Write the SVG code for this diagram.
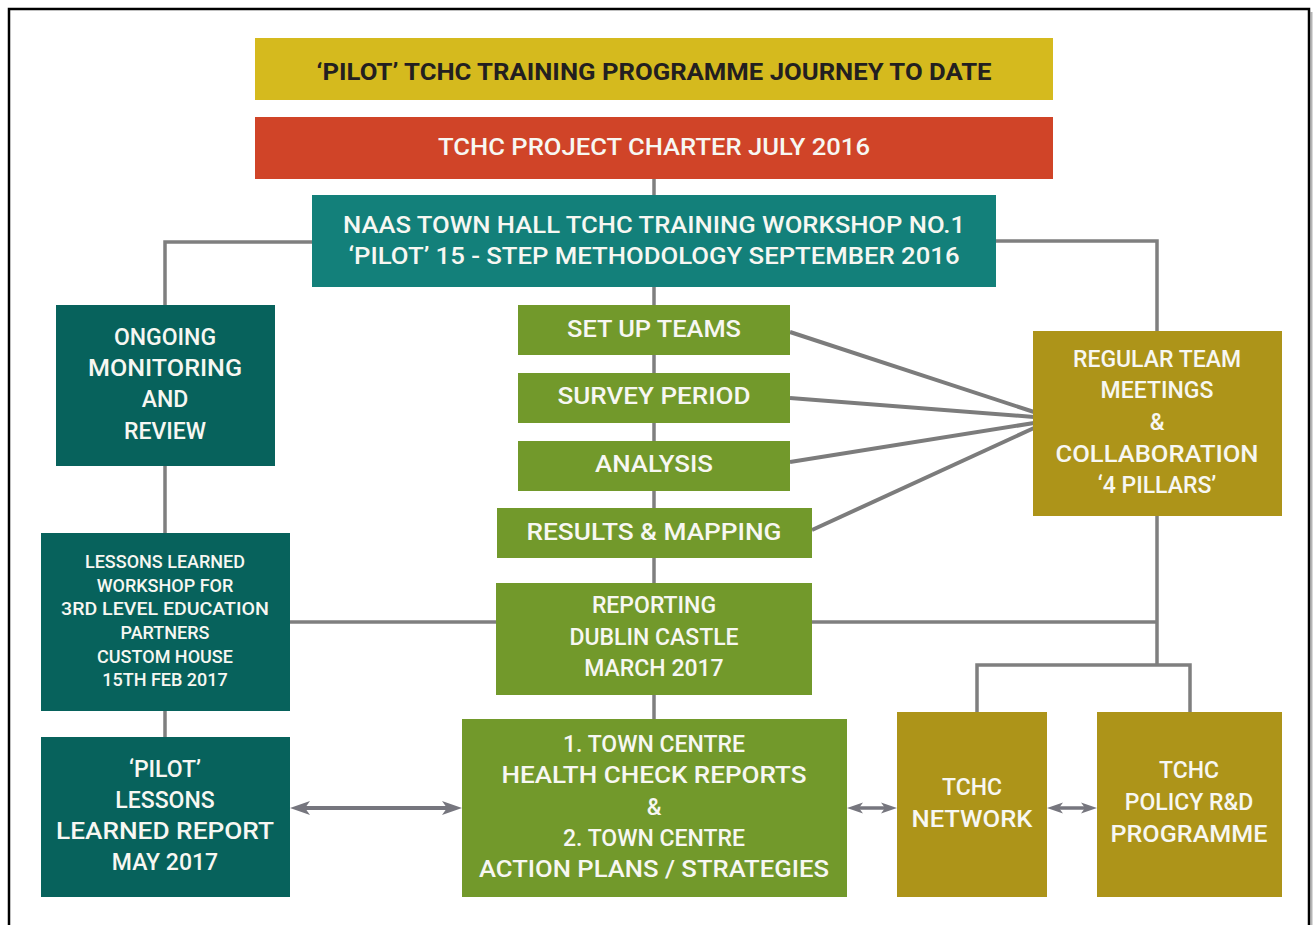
<svg xmlns="http://www.w3.org/2000/svg" width="1316" height="925" viewBox="0 0 1316 925">
  <style>
    .lbl { font-family: Roboto, "Liberation Sans", Arial, sans-serif; font-weight: 500; fill: #f7f7f2; text-anchor: middle; }
    .dark { fill: #231f20; font-weight: 700; }
    .s24 { font-size: 24px; }
    .s23 { font-size: 23px; }
    .s18 { font-size: 18px; }
    .yellow { fill: #d5ba1e; }
    .red { fill: #d04428; }
    .teal { fill: #13807a; }
    .deep { fill: #07625c; }
    .green { fill: #72992b; }
    .gold { fill: #ad9419; }
    .wire { fill: none; stroke: #7f7f7f; stroke-width: 3.5; }
    .fan { fill: none; stroke: #7c7c7c; stroke-width: 4; }
    .dbl { fill: none; stroke: #76767e; stroke-width: 4; }
    .dbls { fill: none; stroke: #76767e; stroke-width: 3.5; }
  </style>
  <defs>
    <marker id="headL" markerUnits="userSpaceOnUse" viewBox="-12 -8 24 16" markerWidth="24" markerHeight="16" refX="0" refY="0" orient="auto-start-reverse">
      <path d="M10,0 L-10,-7 L-5,0 L-10,7 Z" fill="#76767e"/>
    </marker>
    <marker id="headS" markerUnits="userSpaceOnUse" viewBox="-10 -7 20 14" markerWidth="20" markerHeight="14" refX="0" refY="0" orient="auto-start-reverse">
      <path d="M8,0 L-8,-5.5 L-4,0 L-8,5.5 Z" fill="#76767e"/>
    </marker>
  </defs>

  <rect width="1316" height="925" fill="#ffffff"/>
  <!-- outer frame -->
  <line x1="1311.5" y1="12" x2="1311.5" y2="925" stroke="#b5b5b5" stroke-width="2"/>
  <rect x="9" y="9" width="1300" height="930" fill="none" stroke="#000000" stroke-width="2.5"/>

  <!-- connectors -->
  <g id="connectors">
    <line class="wire" x1="654" y1="179" x2="654" y2="719"/>
    <polyline class="wire" points="313,242 165,242 165,737"/>
    <line class="wire" x1="290" y1="622" x2="496" y2="622"/>
    <polyline class="wire" points="996,241 1157,241 1157,665"/>
    <line class="wire" x1="812" y1="622" x2="1157" y2="622"/>
    <polyline class="wire" points="977,712 977,665 1190,665 1190,712"/>
    <line class="fan" x1="790" y1="332" x2="1034" y2="412"/>
    <line class="fan" x1="790" y1="398" x2="1034" y2="417"/>
    <line class="fan" x1="790" y1="462" x2="1034" y2="423"/>
    <line class="fan" x1="812" y1="530" x2="1034" y2="428"/>
    <line class="dbl" x1="300" y1="808" x2="452" y2="808" marker-start="url(#headL)" marker-end="url(#headL)"/>
    <line class="dbls" x1="855" y1="808" x2="889" y2="808" marker-start="url(#headS)" marker-end="url(#headS)"/>
    <line class="dbls" x1="1055" y1="808" x2="1089" y2="808" marker-start="url(#headS)" marker-end="url(#headS)"/>
  </g>

  <g id="title">
    <rect class="yellow" x="255" y="38" width="798" height="62"/>
    <text class="lbl dark s24" x="654" y="80" textLength="675" lengthAdjust="spacingAndGlyphs">‘PILOT’ TCHC TRAINING PROGRAMME JOURNEY TO DATE</text>
  </g>

  <g id="charter">
    <rect class="red" x="255" y="117" width="798" height="62"/>
    <text class="lbl s24" x="654" y="155" textLength="432" lengthAdjust="spacingAndGlyphs">TCHC PROJECT CHARTER JULY 2016</text>
  </g>

  <g id="workshop">
    <rect class="teal" x="312" y="195" width="684" height="92"/>
    <text class="lbl s24" x="654" y="233" textLength="622" lengthAdjust="spacingAndGlyphs">NAAS TOWN HALL TCHC TRAINING WORKSHOP NO.1</text>
    <text class="lbl s24" x="654" y="264" textLength="611" lengthAdjust="spacingAndGlyphs">‘PILOT’ 15 - STEP METHODOLOGY SEPTEMBER 2016</text>
  </g>

  <g id="monitoring">
    <rect class="deep" x="56" y="305" width="219" height="161"/>
    <text class="lbl s23" x="165" y="345">ONGOING</text>
    <text class="lbl s23" x="165" y="376" textLength="154" lengthAdjust="spacingAndGlyphs">MONITORING</text>
    <text class="lbl s23" x="165" y="407">AND</text>
    <text class="lbl s23" x="165" y="439">REVIEW</text>
  </g>

  <g id="lessons-workshop">
    <rect class="deep" x="41" y="533" width="249" height="178"/>
    <text class="lbl s18" x="165" y="568">LESSONS LEARNED</text>
    <text class="lbl s18" x="165" y="592">WORKSHOP FOR</text>
    <text class="lbl s18" x="165" y="615" textLength="208" lengthAdjust="spacingAndGlyphs">3RD LEVEL EDUCATION</text>
    <text class="lbl s18" x="165" y="639">PARTNERS</text>
    <text class="lbl s18" x="165" y="663">CUSTOM HOUSE</text>
    <text class="lbl s18" x="165" y="686">15TH FEB 2017</text>
  </g>

  <g id="lessons-report">
    <rect class="deep" x="41" y="737" width="249" height="160"/>
    <text class="lbl s23" x="165" y="777">‘PILOT’</text>
    <text class="lbl s23" x="165" y="808">LESSONS</text>
    <text class="lbl s23" x="165" y="839" textLength="218" lengthAdjust="spacingAndGlyphs">LEARNED REPORT</text>
    <text class="lbl s23" x="165" y="870">MAY 2017</text>
  </g>

  <g id="setup-teams">
    <rect class="green" x="518" y="305" width="272" height="50"/>
    <text class="lbl s23" x="654" y="337" textLength="174" lengthAdjust="spacingAndGlyphs">SET UP TEAMS</text>
  </g>

  <g id="survey-period">
    <rect class="green" x="518" y="373" width="272" height="50"/>
    <text class="lbl s23" x="654" y="404" textLength="193" lengthAdjust="spacingAndGlyphs">SURVEY PERIOD</text>
  </g>

  <g id="analysis">
    <rect class="green" x="518" y="441" width="272" height="50"/>
    <text class="lbl s23" x="654" y="472" textLength="118" lengthAdjust="spacingAndGlyphs">ANALYSIS</text>
  </g>

  <g id="results-mapping">
    <rect class="green" x="497" y="508" width="315" height="50"/>
    <text class="lbl s23" x="654" y="540" textLength="255" lengthAdjust="spacingAndGlyphs">RESULTS &amp; MAPPING</text>
  </g>

  <g id="reporting">
    <rect class="green" x="496" y="583" width="316" height="112"/>
    <text class="lbl s23" x="654" y="613">REPORTING</text>
    <text class="lbl s23" x="654" y="645">DUBLIN CASTLE</text>
    <text class="lbl s23" x="654" y="676">MARCH 2017</text>
  </g>

  <g id="town-centre">
    <rect class="green" x="462" y="719" width="385" height="178"/>
    <text class="lbl s23" x="654" y="752">1. TOWN CENTRE</text>
    <text class="lbl s23" x="654" y="783" textLength="305" lengthAdjust="spacingAndGlyphs">HEALTH CHECK REPORTS</text>
    <text class="lbl s23" x="654" y="815">&amp;</text>
    <text class="lbl s23" x="654" y="846">2. TOWN CENTRE</text>
    <text class="lbl s23" x="654" y="877" textLength="350" lengthAdjust="spacingAndGlyphs">ACTION PLANS / STRATEGIES</text>
  </g>

  <g id="team-meetings">
    <rect class="gold" x="1033" y="331" width="249" height="185"/>
    <text class="lbl s23" x="1157" y="367">REGULAR TEAM</text>
    <text class="lbl s23" x="1157" y="398">MEETINGS</text>
    <text class="lbl s23" x="1157" y="430">&amp;</text>
    <text class="lbl s23" x="1157" y="462" textLength="203" lengthAdjust="spacingAndGlyphs">COLLABORATION</text>
    <text class="lbl s23" x="1157" y="493">‘4 PILLARS’</text>
  </g>

  <g id="tchc-network">
    <rect class="gold" x="897" y="712" width="150" height="185"/>
    <text class="lbl s23" x="972" y="795">TCHC</text>
    <text class="lbl s23" x="972" y="827" textLength="121" lengthAdjust="spacingAndGlyphs">NETWORK</text>
  </g>

  <g id="policy-programme">
    <rect class="gold" x="1097" y="712" width="185" height="185"/>
    <text class="lbl s23" x="1189" y="778">TCHC</text>
    <text class="lbl s23" x="1189" y="810">POLICY R&amp;D</text>
    <text class="lbl s23" x="1189" y="842" textLength="157" lengthAdjust="spacingAndGlyphs">PROGRAMME</text>
  </g>
</svg>
